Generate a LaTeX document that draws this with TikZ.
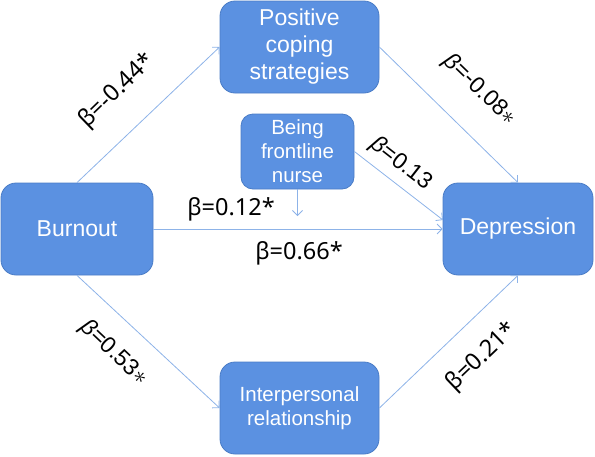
\documentclass[tikz,border=0pt]{standalone}
\usepackage{fontspec}
\setmainfont{Liberation Sans}
\newfontfamily\labfont{Noto Sans}
\usetikzlibrary{arrows.meta}
\definecolor{boxfill}{HTML}{5B91E1}
\definecolor{boxline}{HTML}{4A7CC6}
\definecolor{arrowc}{HTML}{8DB3E8}
\tikzset{
  boxnode/.style={draw=boxline, line width=0.8pt, fill=boxfill, rounded corners=15pt,
    text=white, align=center, inner sep=0pt, font=\fontsize{23}{27}\selectfont},
  smallbox/.style={boxnode, font=\fontsize{20.5}{24}\selectfont},
  conn/.style={draw=arrowc, line width=0.8pt, -{Straight Barb[length=5pt,width=10pt]}},
  lab/.style={inner sep=0pt, font=\labfont\fontsize{23.5}{27}\selectfont},
  labi/.style={inner sep=0pt, font=\fontsize{23}{27}\selectfont}
}
\begin{document}
\begin{tikzpicture}[x=1pt,y=-1pt]
\useasboundingbox (0,0) rectangle (595,456);
\node[boxnode, minimum width=152pt, minimum height=92pt] (burn) at (77,229) {Burnout};
\node[boxnode, minimum width=159pt, minimum height=92pt] (pos) at (299.5,47) {Positive\\coping\\strategies};
\node[smallbox, minimum width=113pt, minimum height=75pt, rounded corners=12pt] (nurse) at (297.5,151.5) {Being\\frontline\\nurse};
\node[boxnode, minimum width=150pt, minimum height=92pt] (dep) at (518,229) {Depression};
\node[smallbox, minimum width=159pt, minimum height=92pt] (inter) at (299.5,408) {Interpersonal\\relationship};
\coordinate (nurseend) at (297.5,216);
\coordinate (depin) at (443,220);
\draw[conn] (burn.north) -- (pos.west);
\draw[conn] (pos.east) -- (dep.north);
\draw[conn] (burn.south) -- (inter.west);
\draw[conn] (inter.east) -- (dep.south);
\draw[conn] (burn.east) -- (dep.west);
\draw[conn] (nurse.south) -- (nurseend);
\draw[conn] (nurse.east) -- (depin);
\node[lab, rotate=44] (l1) at (117,91) {β=-0.44*};
\node[labi, rotate=-44] (l2) at (480,90) {{\itshape β}=-0.08$*$};
\node[labi, rotate=-38] (l3) at (401,164) {{\itshape β}=0.13};
\node[lab] (l4) at (231,209) {β=0.12*};
\node[lab] (l5) at (299,253) {β=0.66*};
\node[labi, rotate=-43.5] (l6) at (114,353) {{\itshape β}=0.53$*$};
\node[lab, rotate=43.7] (l7) at (482,357) {β=0.21*};
\end{tikzpicture}
\end{document}
